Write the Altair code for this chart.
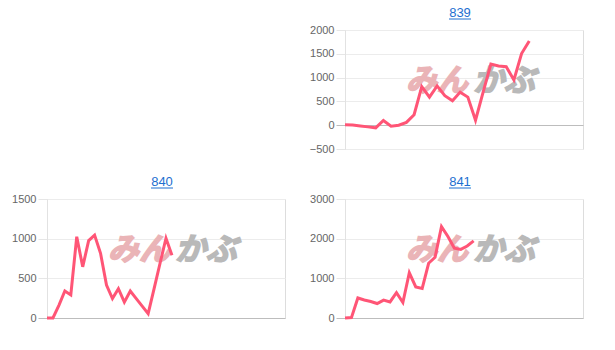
import altair as alt
import pandas as pd

# ---- data ----
chart_ids = ["839", "840", "841"]
values_839 = [10, 5, -15, -35, -55, 100, -20, 0, 60, 220, 810, 590, 825, 620, 515,
              695, 590, 105, 700, 1285, 1245, 1230, 950, 1505, 1770]
values_840 = [0, 0, 160, 340, 290, 1025, 645, 975, 1045, 815, 415, 245, 370, 200,
              340, 245, 150, 55, 370, 690, 1005, 790]
values_841 = [0, 10, 505, 455, 415, 365, 450, 405, 640, 390, 1140, 785, 745, 1380,
              1530, 2305, 2055, 1760, 1730, 1815, 1945]
y_domain_839 = [-500, 2000]
y_domain_840 = [0, 1500]
y_domain_841 = [0, 3000]
y_ticks_839 = [-500, 0, 500, 1000, 1500, 2000]
y_ticks_840 = [0, 500, 1000, 1500]
y_ticks_841 = [0, 1000, 2000, 3000]
x_max_839 = 31
x_max_840 = 40
x_max_841 = 37
watermark_a = "みん"
watermark_b = "かぶ"

LINE = "#ff5576"
LINK = "#1e6fd0"
W, H = 238, 119


def panel(pid, vals, ydom, yticks, xmax):
    df = pd.DataFrame({"i": list(range(len(vals))), "v": vals})
    line = alt.Chart(df).mark_line(color=LINE, strokeWidth=3, strokeJoin="miter").encode(
        x=alt.X("i:Q", scale=alt.Scale(domain=[0, xmax], nice=False, zero=False), axis=None),
        y=alt.Y(
            "v:Q",
            scale=alt.Scale(domain=ydom, nice=False),
            axis=alt.Axis(
                values=yticks,
                title=None,
                labelFont="Liberation Sans",
                labelFontSize=11,
                labelColor="#666666",
                labelPadding=2,
                tickSize=9,
                tickColor=alt.condition(alt.datum.value == 0, alt.value("#bdbdbd"), alt.value("#e6e6e6")),
                gridColor=alt.condition(alt.datum.value == 0, alt.value("#bdbdbd"), alt.value("#ececec")),
                domainColor="#e2e2e2",
                format="d",
            ),
        ),
    )
    wm1 = alt.Chart(pd.DataFrame({"t": [watermark_a]})).mark_text(
        font="Noto Sans CJK JP", fontSize=31, fontWeight="bold", fontStyle="italic",
        color="#eab4b7", stroke="#eab4b7", strokeWidth=1.6, align="center", baseline="middle",
    ).encode(text="t:N", x=alt.value(92), y=alt.value(52))
    wm2 = alt.Chart(pd.DataFrame({"t": [watermark_b]})).mark_text(
        font="Noto Sans CJK JP", fontSize=31, fontWeight="bold", fontStyle="italic",
        color="#b9b9b9", stroke="#b9b9b9", strokeWidth=1.6, align="center", baseline="middle",
    ).encode(text="t:N", x=alt.value(159), y=alt.value(52))
    title = alt.Chart(pd.DataFrame({"t": [pid]})).mark_text(
        font="Liberation Sans", fontSize=13, color=LINK, align="center", baseline="alphabetic",
    ).encode(text="t:N", x=alt.value(115), y=alt.value(-13))
    underline = alt.Chart(pd.DataFrame({"t": [pid]})).mark_rule(color=LINK, strokeWidth=1).encode(
        x=alt.value(104), x2=alt.value(126), y=alt.value(-11)
    )
    return alt.layer(wm1, wm2, line, title, underline).properties(width=W, height=H)


empty = alt.Chart(pd.DataFrame({"e": [0]})).mark_point(opacity=0).properties(width=W, height=H)

p839 = panel(chart_ids[0], values_839, y_domain_839, y_ticks_839, x_max_839)
p840 = panel(chart_ids[1], values_840, y_domain_840, y_ticks_840, x_max_840)
p841 = panel(chart_ids[2], values_841, y_domain_841, y_ticks_841, x_max_841)

chart = alt.concat(
    empty, p839, p840, p841,
    columns=2,
    spacing={"row": 50, "column": 60},
    bounds="flush",
).properties(
    padding={"left": 11, "top": 6, "right": 5, "bottom": 5}
).configure_view(stroke=None).configure(background="white")

chart.save("out.html", embed_options={"renderer": "svg", "actions": False})
